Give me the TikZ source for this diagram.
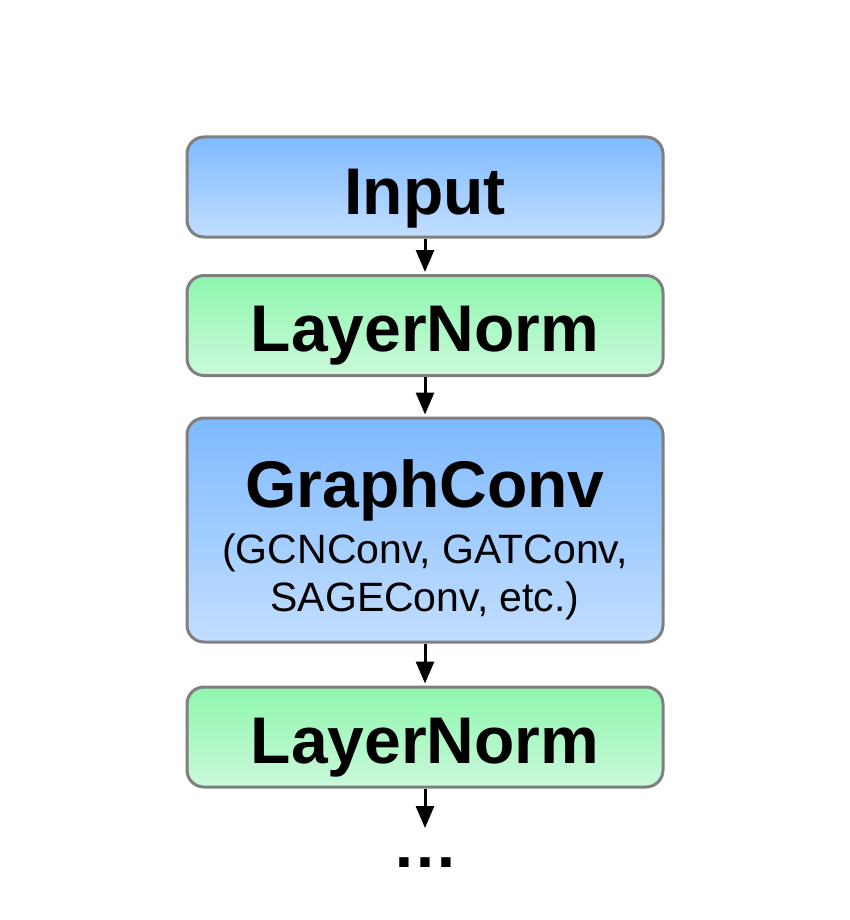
\documentclass[tikz,border=0pt]{standalone}
\usepackage{fontspec}
\setmainfont{Liberation Sans}
\usetikzlibrary{arrows.meta}
\definecolor{bluetop}{HTML}{7FBAFF}
\definecolor{bluebot}{HTML}{C2DEFF}
\definecolor{greentop}{HTML}{8EF6AE}
\definecolor{greenbot}{HTML}{CAF9DA}
\definecolor{edgegray}{HTML}{7F7F7F}
\begin{document}
\begin{tikzpicture}[x=1pt,y=-1pt,
  box/.style={draw=edgegray, line width=3pt, rounded corners=17pt,
    minimum width=476pt, inner sep=0pt},
  bluebox/.style={box, top color=bluetop, bottom color=bluebot},
  greenbox/.style={box, top color=greentop, bottom color=greenbot},
  title/.style={anchor=base, inner sep=0pt, font=\fontsize{66}{70}\selectfont\bfseries},
  sub/.style={anchor=base, inner sep=0pt, font=\fontsize{41}{45}\selectfont},
  arr/.style={line width=3pt, -{Triangle[length=22pt,width=18pt]}, shorten >=2pt}]
\useasboundingbox (0,0) rectangle (849,920);
\node[bluebox, minimum height=100pt] (in) at (425,187) {};
\node[greenbox, minimum height=100pt] (ln1) at (425,325.5) {};
\node[bluebox, minimum height=224pt] (gc) at (425,530) {};
\node[greenbox, minimum height=100pt] (ln2) at (425,737) {};
\node[title] (tin) at (425,214) {Input};
\node[title] (tln1) at (425,351) {LayerNorm};
\node[title] (tgc) at (425,507) {GraphConv};
\node[sub] (tgc1) at (425,563) {(GCNConv, GATConv,};
\node[sub] (tgc2) at (425,611) {SAGEConv, etc.)};
\node[title] (tln2) at (425,763) {LayerNorm};
\node[title] (dots) at (425,867) {…};
\coordinate (end) at (425,828);
\draw[arr] (in.south) -- (ln1.north);
\draw[arr] (ln1.south) -- (gc.north);
\draw[arr] (gc.south) -- (ln2.north);
\draw[arr, shorten >=0pt] (ln2.south) -- (end);
\end{tikzpicture}
\end{document}
